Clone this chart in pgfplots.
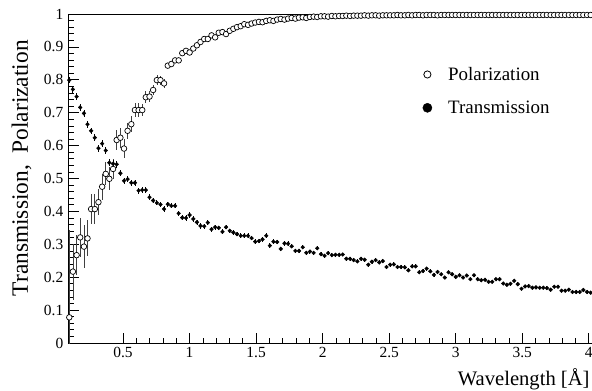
\documentclass[border=0pt]{standalone}
\usepackage{fontspec}
\setmainfont{Liberation Serif}
\usepackage{pgfplots}
\pgfplotsset{compat=1.18}
\usepackage{pgfplotstable}

\pgfplotstableread{
x T Te P Pe
0.096 0.799 0.010 0.078 0.265
0.123 0.771 0.010 0.217 0.085
0.151 0.749 0.010 0.267 0.060
0.178 0.716 0.010 0.321 0.060
0.206 0.698 0.010 0.293 0.065
0.233 0.665 0.010 0.318 0.055
0.260 0.645 0.010 0.407 0.045
0.288 0.624 0.010 0.407 0.045
0.315 0.592 0.010 0.428 0.040
0.343 0.606 0.010 0.475 0.040
0.370 0.585 0.010 0.514 0.035
0.397 0.548 0.010 0.499 0.035
0.425 0.545 0.010 0.529 0.030
0.452 0.543 0.010 0.617 0.030
0.480 0.516 0.009 0.624 0.030
0.507 0.493 0.009 0.591 0.030
0.534 0.498 0.009 0.645 0.025
0.562 0.487 0.009 0.665 0.025
0.589 0.487 0.009 0.708 0.020
0.617 0.463 0.009 0.708 0.020
0.644 0.465 0.009 0.708 0.018
0.671 0.465 0.009 0.747 0.018
0.699 0.443 0.009 0.749 0.016
0.726 0.433 0.008 0.769 0.015
0.754 0.426 0.008 0.799 0.015
0.781 0.421 0.008 0.799 0.014
0.808 0.407 0.008 0.789 0.014
0.836 0.422 0.008 0.843 0.008
0.863 0.417 0.008 0.848 0.008
0.891 0.417 0.008 0.859 0.008
0.918 0.394 0.008 0.859 0.008
0.945 0.381 0.008 0.881 0.007
0.973 0.380 0.008 0.888 0.007
1.000 0.389 0.008 0.883 0.007
1.028 0.377 0.008 0.895 0.006
1.055 0.367 0.008 0.905 0.006
1.082 0.356 0.008 0.915 0.006
1.110 0.355 0.008 0.924 0.006
1.137 0.366 0.008 0.924 0.006
1.165 0.346 0.008 0.935 0.006
1.192 0.352 0.008 0.929 0.006
1.219 0.350 0.007 0.943 0.005
1.247 0.338 0.007 0.945 0.005
1.274 0.352 0.007 0.939 0.005
1.302 0.341 0.007 0.949 0.005
1.329 0.336 0.007 0.955 0.005
1.356 0.331 0.007 0.960 0.005
1.384 0.326 0.007 0.963 0.005
1.411 0.326 0.007 0.969 0.005
1.439 0.326 0.007 0.967 0.005
1.466 0.319 0.007 0.971 0.005
1.493 0.308 0.007 0.974 0.005
1.521 0.310 0.007 0.976 0.005
1.548 0.315 0.007 0.975 0.005
1.576 0.326 0.007 0.979 0.005
1.603 0.296 0.007 0.981 0.005
1.630 0.308 0.007 0.979 0.005
1.658 0.307 0.007 0.983 0.005
1.685 0.286 0.007 0.985 0.005
1.713 0.303 0.007 0.983 0.005
1.740 0.302 0.007 0.986 0.005
1.767 0.294 0.006 0.988 0.003
1.795 0.280 0.006 0.986 0.003
1.822 0.280 0.006 0.989 0.003
1.850 0.291 0.006 0.990 0.003
1.877 0.274 0.006 0.988 0.003
1.904 0.278 0.006 0.991 0.003
1.932 0.274 0.006 0.992 0.003
1.959 0.288 0.006 0.991 0.003
1.987 0.270 0.006 0.993 0.003
2.014 0.265 0.006 0.993 0.003
2.041 0.273 0.006 0.992 0.003
2.069 0.267 0.006 0.994 0.003
2.096 0.268 0.006 0.993 0.003
2.124 0.268 0.006 0.994 0.003
2.151 0.269 0.006 0.994 0.003
2.178 0.256 0.006 0.995 0.003
2.206 0.256 0.006 0.994 0.003
2.233 0.252 0.006 0.995 0.003
2.261 0.248 0.006 0.995 0.003
2.288 0.256 0.006 0.995 0.003
2.315 0.253 0.006 0.996 0.003
2.343 0.238 0.006 0.995 0.003
2.370 0.247 0.006 0.996 0.003
2.398 0.252 0.006 0.996 0.003
2.425 0.245 0.006 0.995 0.003
2.452 0.249 0.006 0.996 0.003
2.480 0.231 0.006 0.996 0.003
2.507 0.238 0.006 0.996 0.003
2.535 0.239 0.006 0.996 0.003
2.562 0.231 0.006 0.997 0.003
2.589 0.231 0.006 0.996 0.003
2.617 0.230 0.006 0.996 0.003
2.644 0.221 0.006 0.997 0.003
2.672 0.233 0.006 0.996 0.003
2.699 0.233 0.006 0.997 0.003
2.726 0.215 0.006 0.997 0.003
2.754 0.219 0.006 0.996 0.003
2.781 0.226 0.006 0.997 0.003
2.809 0.218 0.006 0.997 0.003
2.836 0.207 0.005 0.997 0.003
2.863 0.216 0.005 0.996 0.003
2.891 0.209 0.005 0.997 0.003
2.918 0.199 0.005 0.997 0.003
2.946 0.215 0.005 0.997 0.003
2.973 0.209 0.005 0.997 0.003
3.000 0.201 0.005 0.997 0.003
3.028 0.206 0.005 0.997 0.003
3.055 0.199 0.005 0.997 0.003
3.083 0.205 0.005 0.997 0.003
3.110 0.194 0.005 0.997 0.003
3.137 0.206 0.005 0.997 0.003
3.165 0.194 0.005 0.997 0.003
3.192 0.191 0.005 0.997 0.003
3.220 0.192 0.005 0.997 0.003
3.247 0.186 0.005 0.997 0.003
3.274 0.186 0.005 0.997 0.003
3.302 0.194 0.005 0.997 0.003
3.329 0.194 0.005 0.997 0.003
3.357 0.181 0.005 0.997 0.003
3.384 0.177 0.005 0.997 0.003
3.411 0.180 0.005 0.997 0.003
3.439 0.189 0.005 0.997 0.003
3.466 0.179 0.005 0.997 0.003
3.494 0.165 0.005 0.997 0.003
3.521 0.172 0.005 0.997 0.003
3.548 0.173 0.005 0.997 0.003
3.576 0.168 0.005 0.997 0.003
3.603 0.169 0.005 0.997 0.003
3.631 0.168 0.005 0.997 0.003
3.658 0.168 0.005 0.997 0.003
3.685 0.167 0.005 0.997 0.003
3.713 0.162 0.005 0.997 0.003
3.740 0.171 0.005 0.997 0.003
3.768 0.171 0.005 0.997 0.003
3.795 0.159 0.005 0.997 0.003
3.822 0.159 0.005 0.997 0.003
3.850 0.162 0.005 0.997 0.003
3.877 0.155 0.005 0.997 0.003
3.905 0.155 0.005 0.997 0.003
3.932 0.155 0.005 0.997 0.003
3.959 0.161 0.005 0.997 0.003
3.987 0.155 0.005 0.997 0.003
4.014 0.153 0.005 0.997 0.003
}\data

\begin{document}
\begin{tikzpicture}
\begin{axis}[
  scale only axis, width=524.3bp, height=329bp,
  at={(0,0)}, anchor=south west,
  xmin=0.09, xmax=4.03, ymin=0, ymax=1,
  xtick={0.5,1,1.5,2,2.5,3,3.5,4},
  ytick={0,0.1,0.2,0.3,0.4,0.5,0.6,0.7,0.8,0.9,1},
  yticklabels={0,0.1,0.2,0.3,0.4,0.5,0.6,0.7,0.8,0.9,1},
  minor x tick num=4, minor y tick num=4,
  tick align=inside, tick pos=left,
  major tick length=10bp, minor tick length=5bp,
  every tick/.style={black, line width=0.7bp},
  axis line style={line width=0.8bp},
  /pgf/number format/assume math mode=true,
  ticklabel style={font=\fontsize{15.5}{18}\selectfont},
  xticklabel style={inner sep=0pt, yshift=-4bp},
  yticklabel style={inner sep=0pt, xshift=-5bp},
  xlabel={Wavelength [Å]},
  ylabel={Transmission,\ \ Polarization},
  xlabel style={font=\fontsize{20.7}{24}\selectfont, at={(rel axis cs:1,0)}, anchor=north east, inner sep=0pt, yshift=-25bp, xshift=-3bp},
  ylabel style={font=\fontsize{23.5}{27}\selectfont, at={(rel axis cs:0,1)}, anchor=north east, inner sep=0pt, xshift=-26bp, yshift=57bp},
  legend style={at={(rel axis cs:0.675,0.839)}, anchor=north west, draw=none, fill=none,
    inner sep=0pt, nodes={inner sep=0pt},
    font=\fontsize{19}{23}\selectfont, row sep=19bp, column sep=16bp},
  legend cell align=left,
]
\addplot[only marks, mark=*, mark size=2.8bp,
  mark options={fill=white, draw=black, line width=0.7bp},
  legend image code/.code={\draw[black, line width=0.8bp, fill=white] (0bp,0bp) circle (3.6bp);},
  error bars/.cd, y dir=both, y explicit,
  error bar style={line width=0.7bp, black!75}, error mark=none]
  table[x=x, y=P, y error=Pe]{\data};
\addlegendentry{Polarization}
\addplot[only marks, mark=*, mark size=1.9bp, black,
  legend image code/.code={\fill[black] (0bp,0bp) circle (4.6bp);},
  error bars/.cd, y dir=both, y explicit,
  error bar style={line width=0.8bp, black}, error mark=none]
  table[x=x, y=T, y error=Te]{\data};
\addlegendentry{Transmission}
\end{axis}
\pgfresetboundingbox
\path (-68.5bp,-48bp) rectangle (523.5bp,343bp);
\end{tikzpicture}
\end{document}
